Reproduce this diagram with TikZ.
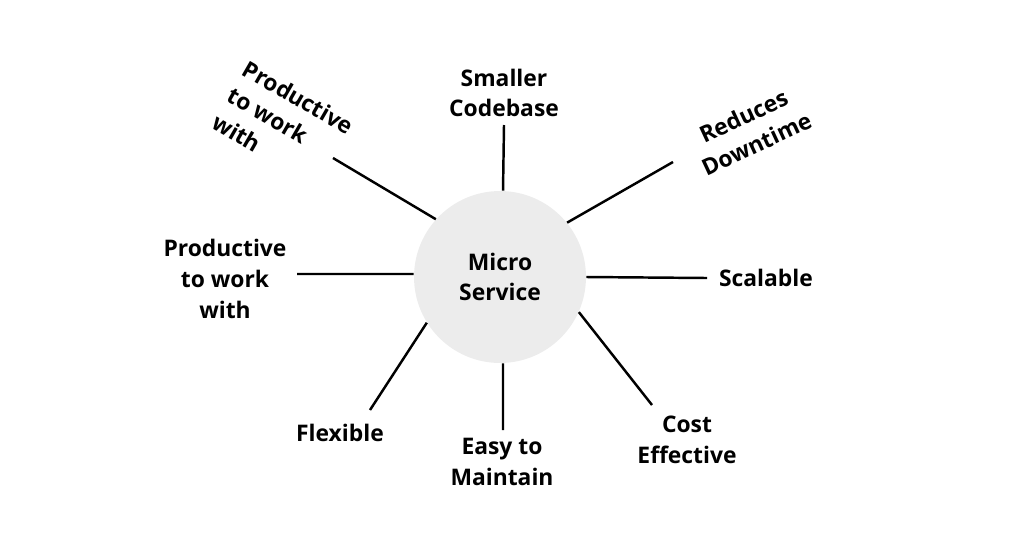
\documentclass[tikz,border=0pt]{standalone}
\usepackage{fontspec}
\setmainfont{Open Sans}
\begin{document}
\begin{tikzpicture}[x=0.02cm,y=-0.02cm,
	lbl/.style={font=\bfseries\fontsize{13}{17.5}\selectfont,align=center},
	spoke/.style={line width=1.4pt}]
	\useasboundingbox (0,0) rectangle (1024,538);
	\node[circle,fill=gray!15,minimum size=3.44cm,inner sep=0pt] (ms) at (500,277) {};
	\node[lbl] (mstext) at (500,277) {Micro\\Service};
	% labels
	\node[lbl] (code) at (504,93) {Smaller\\Codebase};
	\node[lbl,rotate=25] (down) at (750,130) {Reduces\\Downtime};
	\node[lbl] (scal) at (766,278) {Scalable};
	\node[lbl] (cost) at (687,440) {Cost\\Effective};
	\node[lbl] (easy) at (502,462) {Easy to\\Maintain};
	\node[lbl] (flex) at (340,433) {Flexible};
	\node[lbl] (prodl) at (225,279) {Productive\\to work\\with};
	\node[lbl,align=left,rotate=-30] (produl) at (283,124) {Productive\\to work\\with};
	% spoke ends
	\coordinate (ecode) at (504,125);
	\coordinate (edown) at (673,162);
	\coordinate (escal) at (707,278);
	\coordinate (ecost) at (652,405);
	\coordinate (eeasy) at (503,430);
	\coordinate (eflex) at (370,410);
	\coordinate (eprodl) at (297,274);
	\coordinate (eprodul) at (333,158);
	\draw[spoke] (ms.88) -- (ecode);
	\draw[spoke] (ms.39) -- (edown);
	\draw[spoke] (ms.0) -- (escal);
	\draw[spoke] (ms.-24) -- (ecost);
	\draw[spoke] (ms.-88) -- (eeasy);
	\draw[spoke] (ms.-148) -- (eflex);
	\draw[spoke] (ms.178) -- (eprodl);
	\draw[spoke] (ms.138) -- (eprodul);
\end{tikzpicture}
\end{document}
